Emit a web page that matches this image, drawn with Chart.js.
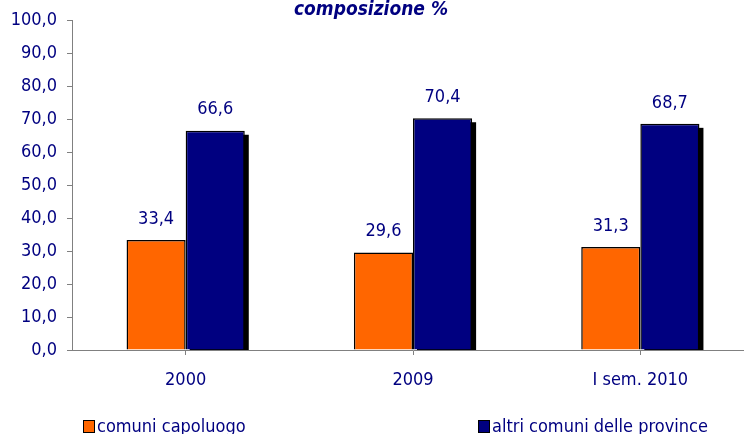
<!DOCTYPE html>
<html>
<head>
<meta charset="utf-8">
<script src="https://cdn.jsdelivr.net/npm/chart.js@4/dist/chart.umd.min.js"></script>
<style>
  html, body { margin: 0; padding: 0; background: #ffffff; overflow: hidden; }
  #wrap { width: 756px; height: 434px; }
</style>
</head>
<body>
<div id="wrap"><canvas id="c" width="756" height="434"></canvas></div>
<script>
// Data
const titleText = 'composizione %';
const categories = ['2000', '2009', 'I sem. 2010'];
const seriesNames = ['comuni capoluogo', 'altri comuni delle province'];
const capoluogo = [33.4, 29.6, 31.3];
const altriComuni = [66.6, 70.4, 68.7];
const yTicks = [0, 10, 20, 30, 40, 50, 60, 70, 80, 90, 100];

const NAVY = '#000080';
const ORANGE = '#FF6600';
const AXIS = '#808080';
const FONT = '"DejaVu Sans Condensed", "DejaVu Sans", sans-serif';

const fmt = v => v.toFixed(1).replace('.', ',');

// Drop shadow behind the second series' bars
const barShadow = {
  id: 'barShadow',
  beforeDatasetDraw(chart, args) {
    if (args.index !== 1) return;
    const { ctx, chartArea } = chart;
    const meta = chart.getDatasetMeta(1);
    ctx.save();
    ctx.beginPath();
    ctx.rect(chartArea.left, chartArea.top, chartArea.right - chartArea.left, chartArea.bottom - chartArea.top);
    ctx.clip();
    ctx.fillStyle = '#000000';
    meta.data.forEach(bar => {
      const p = bar.getProps(['x', 'y', 'base', 'width'], true);
      ctx.fillRect(p.x - p.width / 2 + 4, p.y + 4, p.width, p.base - p.y);
    });
    ctx.restore();
  }
};

// Value labels above bars, title and legend
const decorations = {
  id: 'decorations',
  afterDatasetsDraw(chart) {
    const { ctx } = chart;
    ctx.save();
    ctx.fillStyle = NAVY;
    ctx.font = '18px ' + FONT;
    ctx.textAlign = 'center';
    ctx.textBaseline = 'middle';
    chart.data.datasets.forEach((ds, i) => {
      chart.getDatasetMeta(i).data.forEach((bar, j) => {
        ctx.fillText(fmt(ds.data[j]), bar.x, bar.y - 21);
      });
    });
    ctx.restore();
  },
  afterDraw(chart) {
    const { ctx } = chart;
    ctx.save();
    // title
    ctx.fillStyle = NAVY;
    ctx.font = 'italic bold 19px ' + FONT;
    ctx.textAlign = 'center';
    ctx.textBaseline = 'alphabetic';
    ctx.fillText(titleText, 371, 15);
    // legend
    const xs = [83, 478];
    ctx.font = '18px ' + FONT;
    ctx.textAlign = 'left';
    ctx.textBaseline = 'middle';
    chart.data.datasets.forEach((ds, i) => {
      const x = xs[i];
      ctx.fillStyle = ds.backgroundColor;
      ctx.fillRect(x + 0.5, 420.5, 11, 12);
      ctx.strokeStyle = '#000000';
      ctx.lineWidth = 1;
      ctx.strokeRect(x + 0.5, 420.5, 11, 12);
      ctx.fillStyle = NAVY;
      ctx.fillText(ds.label, x + 14, 427);
    });
    ctx.restore();
  }
};

new Chart(document.getElementById('c'), {
  type: 'bar',
  data: {
    labels: categories,
    datasets: [
      { label: seriesNames[0], data: capoluogo, backgroundColor: ORANGE, borderColor: '#000000', borderWidth: 1.5 },
      { label: seriesNames[1], data: altriComuni, backgroundColor: NAVY, borderColor: '#000000', borderWidth: 1.5 }
    ]
  },
  options: {
    responsive: false,
    animation: false,
    events: [],
    layout: { padding: { top: 18, right: 2, bottom: 40, left: 0 } },
    datasets: { bar: { categoryPercentage: 0.52, barPercentage: 1.0 } },
    plugins: {
      legend: { display: false },
      title: { display: false },
      tooltip: { enabled: false }
    },
    scales: {
      x: {
        grid: { display: true, offset: false, drawOnChartArea: false, drawTicks: true, tickLength: 5, color: AXIS },
        border: { display: true, color: AXIS, width: 1 },
        ticks: { color: NAVY, font: { family: FONT, size: 18 }, padding: 15, maxRotation: 0 },
        afterFit(scale) { scale.height = 44; }
      },
      y: {
        min: 0,
        max: 100,
        afterBuildTicks(scale) { scale.ticks = yTicks.map(v => ({ value: v })); },
        grid: { display: true, drawOnChartArea: false, drawTicks: true, tickLength: 5, color: AXIS },
        border: { display: true, color: AXIS, width: 1 },
        ticks: { color: NAVY, font: { family: FONT, size: 18 }, padding: 10, callback: v => fmt(v) },
        afterFit(scale) { scale.width = 72; }
      }
    }
  },
  plugins: [barShadow, decorations]
});
</script>
</body>
</html>
